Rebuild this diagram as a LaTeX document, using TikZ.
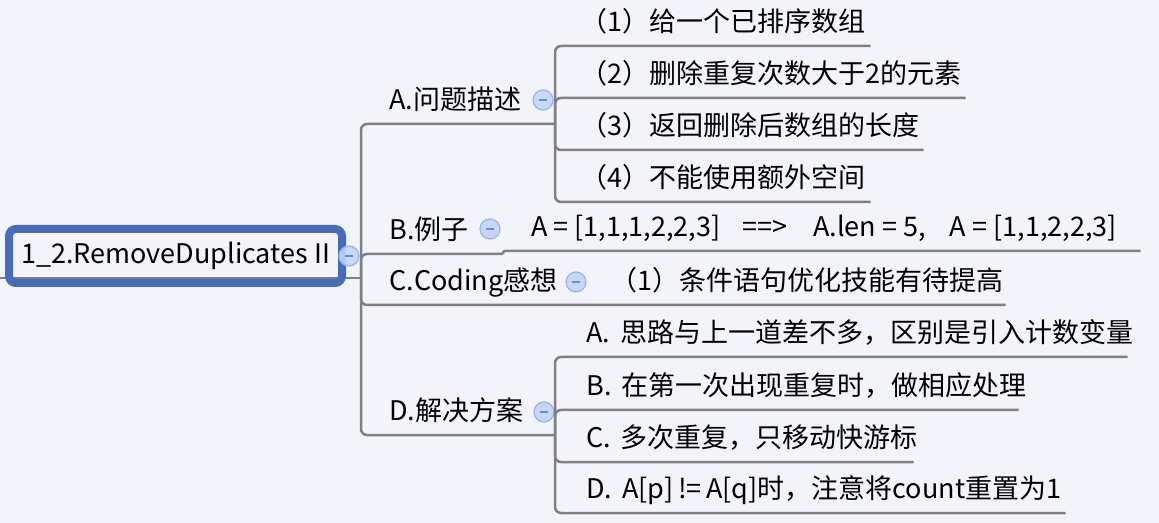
\documentclass[tikz,border=0pt]{standalone}
\usepackage{fontspec}
\setmainfont{Noto Sans CJK SC}
\definecolor{bgcol}{RGB}{243,244,250}
\definecolor{linecol}{RGB}{128,128,128}
\definecolor{rootblue}{RGB}{72,108,186}
\definecolor{foldfill}{RGB}{194,212,248}
\definecolor{folddraw}{RGB}{155,182,236}
\definecolor{foldminus}{RGB}{115,138,194}
\newdimen\pxu
\pxu=0.75pt

\begin{document}
\begin{tikzpicture}[
    x=0.75pt, y=-0.75pt,
    conn/.style={draw=linecol, line width=2.5\pxu, rounded corners=6\pxu},
    topic/.style={anchor=south west, inner xsep=4\pxu, inner ysep=0pt,
        text depth=14\pxu, font=\fontsize{20.25pt}{24pt}\selectfont},
    topicw/.style={topic, execute at begin node={\hbox to #1\pxu\bgroup},
        execute at end node={\hfil\egroup}},
    roottopic/.style={rectangle, draw=rootblue, line width=8\pxu, rounded corners=7\pxu,
        minimum width=333\pxu, minimum height=54\pxu, inner sep=0pt,
        font=\fontsize{20.25pt}{24pt}\selectfont},
    fold/.style={circle, draw=folddraw, fill=foldfill, fill opacity=0.9,
        minimum size=20\pxu, inner sep=0pt, line width=1.2\pxu,
        path picture={\draw[foldminus, line width=1.6\pxu]
            ([xshift=-4\pxu]path picture bounding box.center) --
            ([xshift=4\pxu]path picture bounding box.center);}}
]
\useasboundingbox[fill=bgcol] (0,0) rectangle (1159,523);

\coordinate (rs) at (0,278);
\coordinate (rj) at (361,278);
\coordinate (jA) at (555,124);
\coordinate (jB) at (503,254);
\coordinate (jD) at (555,435);

\draw[conn] (rs) -- (rj);
\node[roottopic] (root) at (175.5,256) {1\_2.RemoveDuplicates II};
\node[fold] (rootfold) at (349,256) {};

\node[topic] (A) at (385,124) {A.问题描述};
\node[topic] (B) at (385,254) {B.例子};
\node[topic] (C) at (385,305) {C.Coding感想};
\node[topic] (D) at (385,435) {D.解决方案};

\draw[conn] (rj) |- (A.south west) -- (jA);
\draw[conn] (rj) |- (B.south west) -- (jB);
\draw[conn] (rj) |- (D.south west) -- (jD);

\node[fold] (Afold) at (543,100) {};
\node[fold] (Bfold) at (490,229) {};
\node[fold] (Cfold) at (576,282) {};
\node[fold] (Dfold) at (544,412) {};

\node[topicw=286] (a1) at (576,46) {（1）给一个已排序数组};
\node[topicw=381] (a2) at (576,98) {（2）删除重复次数大于2的元素};
\node[topicw=339] (a3) at (576,150) {（3）返回删除后数组的长度};
\node[topicw=286] (a4) at (576,202) {（4）不能使用额外空间};
\foreach \n in {a1,a2,a3,a4}
    \draw[conn] (jA) |- (\n.south east);

\node[topicw=605] (b1) at (527,251)
    {A = [1,1,1,2,2,3]\hspace{22\pxu}==>\hspace{26\pxu}A.len = 5,\hspace{24\pxu}A = [1,1,2,2,3]};
\draw[conn, rounded corners=2\pxu] (jB) |- (b1.south east);

\node[topicw=391] (c1) at (606,305) {（1）条件语句优化技能有待提高};
\draw[conn] (rj) |- (C.south west) -- (c1.south east);

\node[topicw=537] (d1) at (582,357) {A.\hspace{10\pxu}思路与上一道差不多，区别是引入计数变量};
\node[topicw=428] (d2) at (582,410) {B.\hspace{10\pxu}在第一次出现重复时，做相应处理};
\node[topicw=323] (d3) at (582,462) {C.\hspace{10\pxu}多次重复，只移动快游标};
\node[topicw=475] (d4) at (582,513) {D.\hspace{10\pxu}A[p] != A[q]时，注意将count重置为1};
\foreach \n in {d1,d2,d3,d4}
    \draw[conn] (jD) |- (\n.south east);

\end{tikzpicture}
\end{document}
